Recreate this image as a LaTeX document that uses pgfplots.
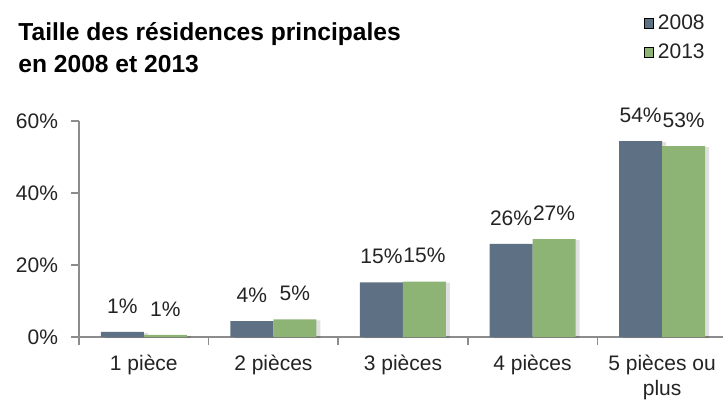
\documentclass[border=0pt]{standalone}
\usepackage{fontspec}
\setmainfont{Liberation Sans}
\usepackage{pgfplots}
\pgfplotsset{compat=1.18}
\definecolor{c2008}{RGB}{94,112,131}
\definecolor{c2013}{RGB}{141,180,116}
\definecolor{axgray}{RGB}{140,140,140}
\definecolor{txt}{RGB}{35,35,35}
\begin{document}
\begin{tikzpicture}
\useasboundingbox (-39.5pt,-38.5pt) rectangle (322pt,168.5pt);
\node[anchor=north west, align=left, inner sep=0pt, text=black,
      font=\bfseries\fontsize{12.3}{16}\selectfont] at (-30.5pt,157.5pt)
  {Taille des résidences principales\\en 2008 et 2013};
\begin{axis}[
  scale only axis, width=322pt, height=108pt,
  xmin=-0.5, xmax=4.47, ymin=0, ymax=60,
  axis x line=bottom, axis y line=left,
  axis line style={-, draw=axgray, line width=0.8pt},
  ybar, bar width=21.5pt,
  tick align=outside,
  xtick={0,1,2,3,4},
  xticklabels={1 pièce, 2 pièces, 3 pièces, 4 pièces, {5 pièces ou\\plus}},
  xticklabel style={align=center, text=txt, yshift=-1.5pt},
  major x tick style={draw=none},
  minor xtick={-0.5,0.5,1.5,2.5,3.5},
  minor tick length=4pt, major tick length=4pt,
  minor x tick style={draw=axgray, line width=0.8pt},
  ytick={0,20,40,60}, yticklabels={0\%,20\%,40\%,60\%},
  yticklabel style={text=txt, xshift=-3pt},
  major y tick style={draw=axgray, line width=0.8pt},
  tick label style={font=\fontsize{10.5}{12.5}\selectfont},
  point meta=explicit symbolic,
  nodes near coords,
  every node near coord/.append style={anchor=south, inner sep=0pt, yshift=9pt, text=txt, font=\fontsize{10.5}{12.5}\selectfont},
  legend style={at={(0.876,1.514)}, anchor=north west, draw=none, fill=none,
     font=\fontsize{10.5}{12.5}\selectfont, text=txt, row sep=2pt, inner sep=0pt,
     /tikz/every even column/.append style={column sep=2pt}},
  legend cell align=left,
  legend image code/.code={\fill[#1] (0pt,-2.4pt) rectangle (4.8pt,2.6pt);},
  clip=false,
]
\addlegendimage{fill=c2008}
\addlegendimage{fill=c2013}
\addplot[forget plot, bar shift=-10.75pt, fill=c2008, draw=none, preaction={fill=black, fill opacity=0.12, transform canvas={xshift=2pt, yshift=-0.5pt}}] coordinates {(0,1.4)[1\%] (1,4.4)[4\%] (2,15.2)[15\%] (3,25.9)[26\%] (4,54.4)[54\%]};
\addplot[forget plot, bar shift=10.75pt, fill=c2013, draw=none, preaction={fill=black, fill opacity=0.12, transform canvas={xshift=2pt, yshift=-0.5pt}}] coordinates {(0,0.6)[1\%] (1,4.9)[5\%] (2,15.4)[15\%] (3,27.2)[27\%] (4,53.0)[53\%]};
\legend{2008,2013}
\end{axis}
\end{tikzpicture}
\end{document}
